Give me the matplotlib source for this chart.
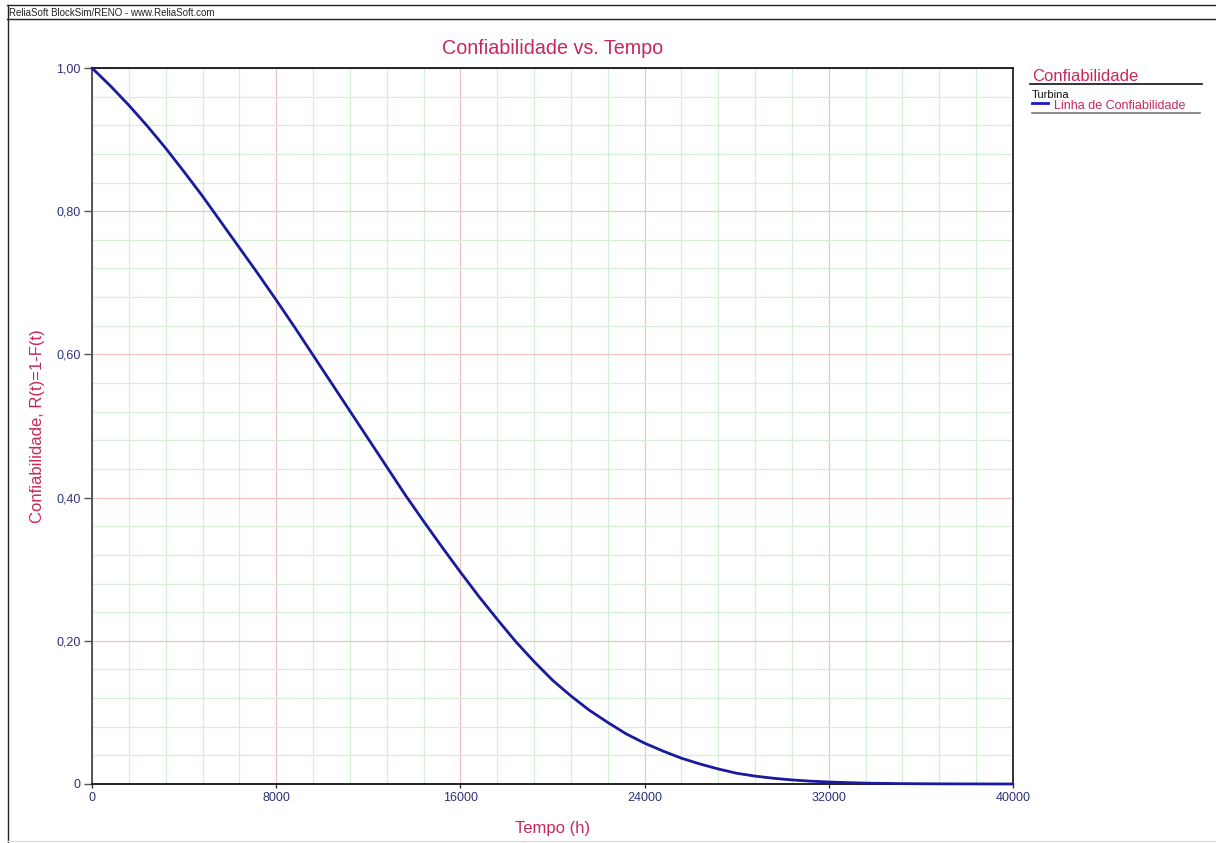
import matplotlib
matplotlib.use("Agg")
import matplotlib.pyplot as plt
from matplotlib.ticker import MultipleLocator, FixedLocator
from matplotlib.lines import Line2D

plt.rcParams['font.family'] = ['Liberation Sans', 'DejaVu Sans']

# Reliability of the turbine over operating time
tempo_h = [0, 800, 1600, 2400, 3200, 4000, 4800, 5600, 6400, 7200, 8000,
           8800, 9600, 10400, 11200, 12000, 12800, 13600, 14400, 15200,
           16000, 16800, 17600, 18400, 19200, 20000, 20800, 21600, 22400,
           23200, 24000, 24800, 25600, 26400, 27200, 28000, 28800, 29600,
           30400, 31200, 32000, 32800, 33600, 35200, 36800, 38400, 40000]
confiabilidade = [1.000, 0.975, 0.948, 0.919, 0.888, 0.855, 0.821, 0.785,
                  0.749, 0.713, 0.676, 0.638, 0.599, 0.560, 0.521, 0.482,
                  0.443, 0.404, 0.367, 0.331, 0.296, 0.262, 0.230, 0.199,
                  0.171, 0.145, 0.123, 0.103, 0.086, 0.070, 0.057, 0.046,
                  0.036, 0.028, 0.021, 0.015, 0.011, 0.008, 0.0057, 0.004,
                  0.0028, 0.0019, 0.0012, 0.0005, 0.0002, 0.0001, 0.0]

x_ticks = [0, 8000, 16000, 24000, 32000, 40000]
x_tick_labels = ["0", "8000", "16000", "24000", "32000", "40000"]
y_ticks = [0, 0.2, 0.4, 0.6, 0.8, 1.0]
y_tick_labels = ["0", "0,20", "0,40", "0,60", "0,80", "1,00"]

CRIMSON = '#c8285a'
NAVY_TXT = '#30307a'
CURVE = '#1a1a9e'

W, H = 1216, 843
fig = plt.figure(figsize=(W / 100, H / 100), dpi=100)
fig.patch.set_facecolor('white')

L, R, T, B = 92, 1013, 68, 784
ax = fig.add_axes([L / W, 1 - B / H, (R - L) / W, (B - T) / H])
ax.set_xlim(0, 40000)
ax.set_ylim(0, 1.0)

ax.xaxis.set_major_locator(FixedLocator(x_ticks))
ax.yaxis.set_major_locator(FixedLocator(y_ticks))
ax.xaxis.set_minor_locator(MultipleLocator(1600))
ax.yaxis.set_minor_locator(MultipleLocator(0.04))
ax.set_xticklabels(x_tick_labels)
ax.set_yticklabels(y_tick_labels)

ax.grid(which='minor', color='#d4efd4', linewidth=0.9, zorder=0)
ax.grid(which='major', color='#ebc4c4', linewidth=0.9, zorder=0)
ax.set_axisbelow(True)

ax.tick_params(axis='x', which='major', length=3, width=1, color='#333333',
               labelsize=9, labelcolor=NAVY_TXT, pad=3)
ax.tick_params(axis='y', which='major', length=6, width=1, color='#555555',
               labelsize=9, labelcolor=NAVY_TXT, pad=2)
ax.tick_params(which='minor', length=0)

for name, sp in ax.spines.items():
    sp.set_color('#222222')
    sp.set_linewidth(1.4)
ax.spines['left'].set_color('#555555')
ax.spines['right'].set_color('#333333')

ax.plot(tempo_h, confiabilidade, color=CURVE, linewidth=2.0,
        solid_joinstyle='round', solid_capstyle='round', zorder=5,
        clip_on=False)

ax.set_title("Confiabilidade vs. Tempo", color=CRIMSON, fontsize=14.2, pad=10)
ax.set_xlabel("Tempo (h)", color=CRIMSON, fontsize=12, labelpad=12)
ax.set_ylabel("Confiabilidade, R(t)=1-F(t)", color=CRIMSON, fontsize=12,
              labelpad=8)

# Legend panel on the right
def fx(px):
    return px / W

def fy(py):
    return 1 - py / H

fig.text(fx(1032), fy(81), "Confiabilidade", color=CRIMSON, fontsize=12,
         ha='left', va='baseline')
fig.add_artist(Line2D([fx(1030), fx(1202)], [fy(84), fy(84)],
                      color='#111111', linewidth=1.2))
fig.text(fx(1032), fy(98.5), "Turbina", color='#111111', fontsize=8,
         ha='left', va='baseline')
fig.add_artist(Line2D([fx(1032), fx(1048)], [fy(102.5), fy(102.5)],
                      color='#1a1acc', linewidth=2.0))
fig.text(fx(1054), fy(109), "Linha de Confiabilidade", color=CRIMSON,
         fontsize=9, ha='left', va='baseline')
fig.add_artist(Line2D([fx(1032), fx(1200)], [fy(112.5), fy(112.5)],
                      color='#777777', linewidth=1.2))

# Header strip and page frame
fig.text(fx(9), fy(16), "ReliaSoft BlockSim/RENO - www.ReliaSoft.com",
         color='#222222', fontsize=7, ha='left', va='baseline')
fig.add_artist(Line2D([fx(7), 1], [fy(5), fy(5)], color='#222222', linewidth=1.0))
fig.add_artist(Line2D([fx(7), 1], [fy(19), fy(19)], color='#222222', linewidth=1.0))
fig.add_artist(Line2D([fx(7.5), fx(7.5)], [fy(5), fy(842)], color='#222222',
                      linewidth=1.0))
fig.add_artist(Line2D([fx(7), 1], [fy(841), fy(841)], color='#dddddd',
                      linewidth=1.0))

fig.savefig("out.png", dpi=100, facecolor='white')
